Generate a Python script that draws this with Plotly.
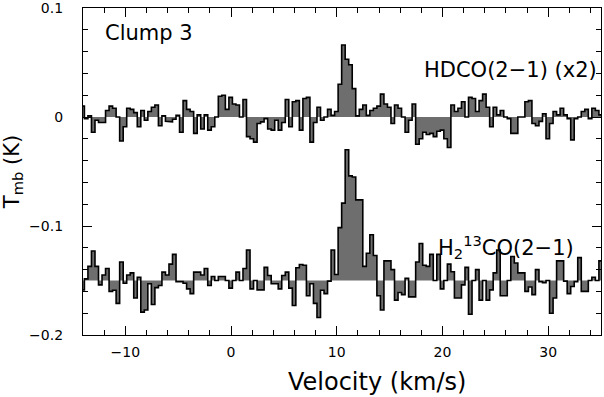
import numpy as np
import plotly.graph_objects as go

# channel grid (km/s)
V0 = -14.2
DV = 1.0 / 3.0

# HDCO(2-1) (x2) spectrum, K, baseline 0
hdco = [
    0.010, -0.0015, 0.001, -0.014, -0.003, -0.005, -0.005, 0.006, 0.010, 0.008,
    0.0, -0.022, -0.009, 0.008, 0.007, 0.004, -0.009, 0.006, -0.003, 0.005,
    0.009, 0.011, -0.008, 0.001, -0.004, -0.0045, -0.002, 0.0015, -0.014, 0.015,
    0.007, 0.005, -0.015, 0.002, -0.011, 0.002, -0.012, -0.009, 0.0, 0.019,
    0.020, 0.007, 0.018, 0.012, 0.011, 0.0, 0.016, -0.018, -0.020, -0.023,
    -0.006, -0.0045, -0.0015, -0.011, -0.012, -0.003, -0.012, -0.005, 0.016, -0.009,
    0.014, 0.015, -0.012, 0.017, 0.018, -0.023, -0.005, 0.009, -0.003, 0.0,
    0.007, 0.0015, 0.005, 0.030, 0.066, 0.053, 0.048, 0.026, 0.001, 0.007,
    0.011, 0.0015, 0.006, 0.008, 0.010, 0.021, 0.012, 0.009, -0.006, 0.011,
    0.008, 0.0, -0.014, -0.003, 0.012, -0.025, -0.020, -0.014, -0.016, -0.015,
    -0.018, -0.013, -0.012, -0.020, -0.028, 0.011, 0.005, 0.008, 0.014, 0.0,
    0.018, 0.017, 0.005, 0.015, 0.021, 0.009, -0.009, 0.009, 0.002, 0.006,
    0.0, -0.0015, -0.015, -0.015, 0.0, 0.0, 0.014, 0.015, -0.006, -0.008,
    -0.004, 0.003, -0.020, -0.006, 0.005, 0.002, 0.008, 0.002, -0.0015, -0.021,
    -0.0015, 0.0, 0.005, 0.007, -0.0015, 0.008, 0.006, 0.002,
]

# H2 13CO(2-1) spectrum, K, relative to its display offset
h213co_offset = -0.15
h213co = [
    -0.0086, 0.0015, 0.013, 0.027, 0.013, -0.004, 0.005, 0.011, -0.010, -0.009,
    -0.021, 0.017, -0.0025, 0.005, 0.007, -0.016, 0.003, -0.029, -0.027, -0.003,
    -0.022, -0.0065, -0.0046, 0.0077, 0.005, 0.015, 0.024, -0.001, -0.001, -0.0025,
    -0.0077, -0.012, 0.0077, 0.0077, 0.005, 0.011, -0.0046, 0.0037, 0.0, 0.0037,
    0.0037, 0.0, -0.007, 0.0, 0.0077, 0.0, 0.011, 0.028, -0.0077, 0.0,
    -0.0086, -0.0086, 0.012, 0.0046, -0.003, -0.003, -0.0077, 0.0046, 0.0077, -0.007,
    -0.023, 0.0117, 0.0147, 0.014, -0.014, -0.003, -0.021, -0.034, -0.009, -0.012,
    -0.0006, 0.028, 0.0055, 0.0485, 0.071, 0.12, 0.096, 0.095, 0.074, 0.074,
    0.013, 0.025, 0.042, 0.023, -0.014, -0.027, 0.018, 0.018, 0.010, -0.018,
    -0.011, -0.013, 0.002, -0.015, -0.015, 0.017, 0.034, 0.014, 0.013, 0.024,
    0.0, 0.024, -0.0077, 0.0, 0.015, 0.008, -0.016, -0.016, -0.004, 0.012,
    -0.031, 0.0, 0.010, -0.018, 0.0, -0.018, -0.0086, 0.007, 0.028, -0.014,
    -0.014, 0.0, 0.022, 0.016, 0.007, 0.007, -0.010, -0.006, -0.013, 0.010,
    -0.001, -0.002, 0.0, -0.030, -0.016, 0.018, 0.018, -0.0006, -0.012, -0.0055,
    -0.001, 0.021, -0.010, -0.010, 0.0, 0.003, 0.0, 0.018,
]

x_ticks = [-10, 0, 10, 20, 30]
y_ticks = [-0.2, -0.1, 0, 0.1]
y_ticklabels = ["\u22120.2", "\u22120.1", "0", "0.1"]

FILL = "#6e6e6e"


def step_xy(values, base):
    vals = np.asarray(values, dtype=float) + base
    n = len(vals)
    edges = V0 + np.arange(n + 1) * DV
    x = np.repeat(edges, 2)[1:-1]
    y = np.repeat(vals, 2)
    return x, y, edges


fig = go.Figure()

for vals, base in [(hdco, 0.0), (h213co, h213co_offset)]:
    x, y, edges = step_xy(vals, base)
    fig.add_trace(go.Scatter(x=[edges[0], edges[-1]], y=[base, base], mode="lines",
                             line=dict(width=0, color=FILL), showlegend=False,
                             hoverinfo="skip"))
    fig.add_trace(go.Scatter(x=x, y=y, mode="lines", fill="tonexty",
                             fillcolor=FILL, line=dict(color="black", width=1.6),
                             showlegend=False))

font_family = "DejaVu Sans"
TXT = dict(family=font_family, color="black")

fig.add_annotation(x=-12.1, y=0.077, xref="x", yref="y", text="Clump 3",
                   showarrow=False, xanchor="left", yanchor="middle",
                   font=dict(size=21, **TXT))
fig.add_annotation(x=34.8, y=0.043, xref="x", yref="y", text="HDCO(2\u22121) (x2)",
                   showarrow=False, xanchor="right", yanchor="middle",
                   font=dict(size=21, **TXT))
fig.add_annotation(x=32.6, y=-0.119, xref="x", yref="y",
                   text="H<sub>2</sub><sup>13</sup>CO(2\u22121)",
                   showarrow=False, xanchor="right", yanchor="middle",
                   font=dict(size=21, **TXT))
# x-axis title (placed as in the reference, right of the plot centre)
fig.add_annotation(x=(377 - 83) / 518, y=-0.145, xref="paper", yref="paper",
                   text="Velocity (km/s)", showarrow=False,
                   xanchor="center", yanchor="middle",
                   font=dict(size=24, **TXT))

axis_common = dict(showline=True, linecolor="black", linewidth=1.2, mirror="ticks",
                   ticks="inside", tickcolor="black", tickwidth=1.2, ticklen=9,
                   showgrid=False, zeroline=False, automargin=False,
                   ticklabeloverflow="allow",
                   tickfont=dict(size=14, family=font_family, color="black"))

fig.update_xaxes(range=[-14, 35], tickvals=x_ticks,
                 ticktext=[("\u2212" + str(-t)) if t < 0 else str(t) for t in x_ticks],
                 minor=dict(dtick=2, ticks="inside", ticklen=5, tickcolor="black",
                            tickwidth=1.2, tick0=0),
                 ticklabelstandoff=4,
                 **axis_common)
fig.update_yaxes(range=[-0.2, 0.10001], tickvals=y_ticks, ticktext=y_ticklabels,
                 minor=dict(dtick=0.02, ticks="inside", ticklen=5, tickcolor="black",
                            tickwidth=1.2, tick0=0),
                 ticklabelstandoff=16,
                 title=dict(text="T<sub>mb</sub> (K)", standoff=4,
                            font=dict(size=21, **TXT)),
                 **axis_common)

fig.update_layout(width=604, height=397, margin=dict(l=83, r=3, t=8, b=62),
                  plot_bgcolor="white", paper_bgcolor="white")

fig.write_html("out.html", config={"displayModeBar": False},
               post_script="document.body.style.margin='0px';"
                           "document.body.style.overflow='hidden';")
